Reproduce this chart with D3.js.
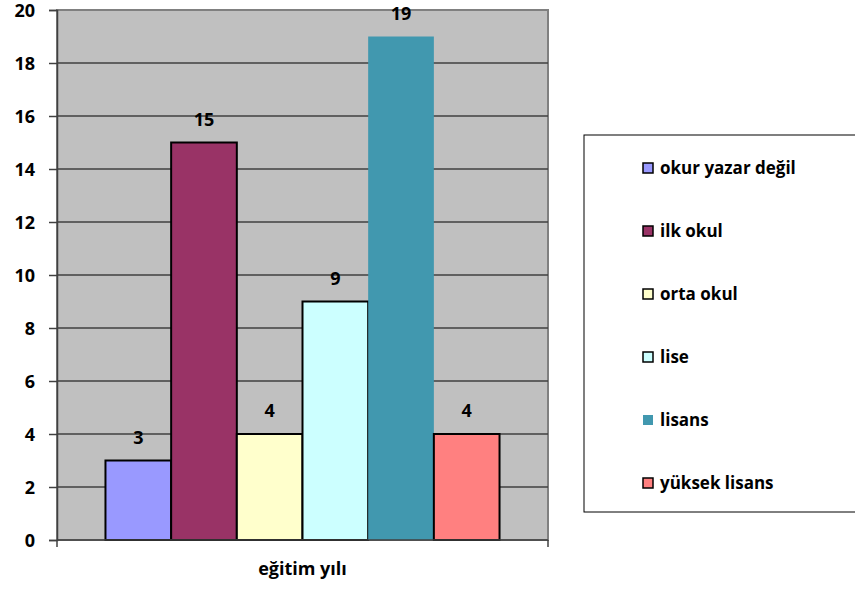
<!DOCTYPE html>
<html>
<head>
<meta charset="utf-8">
<script src="https://cdn.jsdelivr.net/npm/d3@7"></script>
<style>
  body { margin: 0; background: #fff; }
  svg text { font-family: "Open Sans", "DejaVu Sans", sans-serif; font-weight: 700; }
</style>
</head>
<body>
<div id="chart"></div>
<script>
const categories = ["eğitim yılı"];
const seriesNames = ["okur yazar değil", "ilk okul", "orta okul", "lise", "lisans", "yüksek lisans"];
const seriesValues = [3, 15, 4, 9, 19, 4];
const seriesColors = ["#9999ff", "#993366", "#ffffcc", "#ccffff", "#4198af", "#ff8080"];
const seriesBorder = [true, true, true, true, false, true];
const yTicks = [0, 2, 4, 6, 8, 10, 12, 14, 16, 18, 20];

const W = 855, H = 589;
const plot = { left: 57, right: 548, top: 10, bottom: 540 };
const FONT = "'Open Sans', 'DejaVu Sans', sans-serif";

const svg = d3.select("#chart")
    .append("svg")
    .attr("width", W)
    .attr("height", H);

const y = d3.scaleLinear().domain([0, 20]).range([plot.bottom, plot.top]);

const x0 = d3.scaleBand()
    .domain(categories)
    .range([plot.left, plot.right])
    .paddingInner(0)
    .paddingOuter(0.123);

const x1 = d3.scaleBand()
    .domain(seriesNames)
    .range([0, x0.bandwidth()])
    .padding(0);

// plot background
svg.append("rect")
    .attr("x", plot.left)
    .attr("y", plot.top)
    .attr("width", plot.right - plot.left)
    .attr("height", plot.bottom - plot.top)
    .style("fill", "#c0c0c0")
    .style("stroke", "#808080")
    .style("stroke-width", 2);

// gridlines
svg.append("g")
    .selectAll("line")
    .data(yTicks.filter(d => d > 0 && d < 20))
    .enter().append("line")
    .attr("x1", plot.left)
    .attr("x2", plot.right)
    .attr("y1", d => y(d))
    .attr("y2", d => y(d))
    .style("stroke", "#404040")
    .style("stroke-width", 1.5);

// bars
const group = svg.append("g")
    .selectAll("g")
    .data(categories)
    .enter().append("g")
    .attr("transform", d => `translate(${x0(d)},0)`);

group.selectAll("rect")
    .data(seriesNames.map((name, i) => ({ name, value: seriesValues[i], i })))
    .enter().append("rect")
    .attr("x", d => x1(d.name))
    .attr("y", d => y(d.value))
    .attr("width", x1.bandwidth())
    .attr("height", d => y(0) - y(d.value))
    .style("fill", d => seriesColors[d.i])
    .style("stroke", d => seriesBorder[d.i] ? "#000" : "none")
    .style("stroke-width", 2);

group.selectAll("text")
    .data(seriesNames.map((name, i) => ({ name, value: seriesValues[i] })))
    .enter().append("text")
    .attr("x", d => x1(d.name) + x1.bandwidth() / 2)
    .attr("y", d => y(d.value) - 17)
    .attr("text-anchor", "middle")
    .style("font-size", "18px")
    .text(d => d.value);

// y axis
const yAxis = svg.append("g")
    .attr("transform", `translate(${plot.left},0)`)
    .call(d3.axisLeft(y).tickValues(yTicks).tickSize(8).tickPadding(14));
yAxis.attr("font-family", FONT).attr("font-size", 18);
yAxis.select(".domain").style("stroke", "#404040").style("stroke-width", 1.5);
yAxis.selectAll(".tick line").style("stroke", "#404040").style("stroke-width", 1.5);
yAxis.selectAll(".tick text").attr("fill", "#000").attr("dy", "0.38em");

// x axis
const xAxis = svg.append("g")
    .attr("transform", `translate(0,${plot.bottom})`);
xAxis.append("line")
    .attr("x1", plot.left).attr("x2", plot.right)
    .style("stroke", "#404040").style("stroke-width", 1.5);
xAxis.selectAll(".edge")
    .data([plot.left, plot.right])
    .enter().append("line")
    .attr("x1", d => d).attr("x2", d => d)
    .attr("y1", 0).attr("y2", 7)
    .style("stroke", "#404040").style("stroke-width", 1.5);
xAxis.selectAll(".cat")
    .data(categories)
    .enter().append("text")
    .attr("x", d => x0(d) + x0.bandwidth() / 2)
    .attr("y", 35)
    .attr("text-anchor", "middle")
    .style("font-size", "18px")
    .text(d => d);

// legend
const legend = svg.append("g");
legend.append("rect")
    .attr("x", 584)
    .attr("y", 135)
    .attr("width", 290)
    .attr("height", 377)
    .style("fill", "#fff")
    .style("stroke", "#000")
    .style("stroke-width", 1);

const item = legend.selectAll(".item")
    .data(seriesNames)
    .enter().append("g")
    .attr("transform", (d, i) => `translate(643,${168 + i * 63})`);

item.append("rect")
    .attr("x", 0)
    .attr("y", -5)
    .attr("width", 10)
    .attr("height", 10)
    .style("fill", (d, i) => seriesColors[i])
    .style("stroke", (d, i) => seriesBorder[i] ? "#000" : "none")
    .style("stroke-width", 1.5);

item.append("text")
    .attr("x", 17)
    .attr("y", 0)
    .attr("dy", "0.35em")
    .style("font-size", "17px")
    .text(d => d);
</script>
</body>
</html>
